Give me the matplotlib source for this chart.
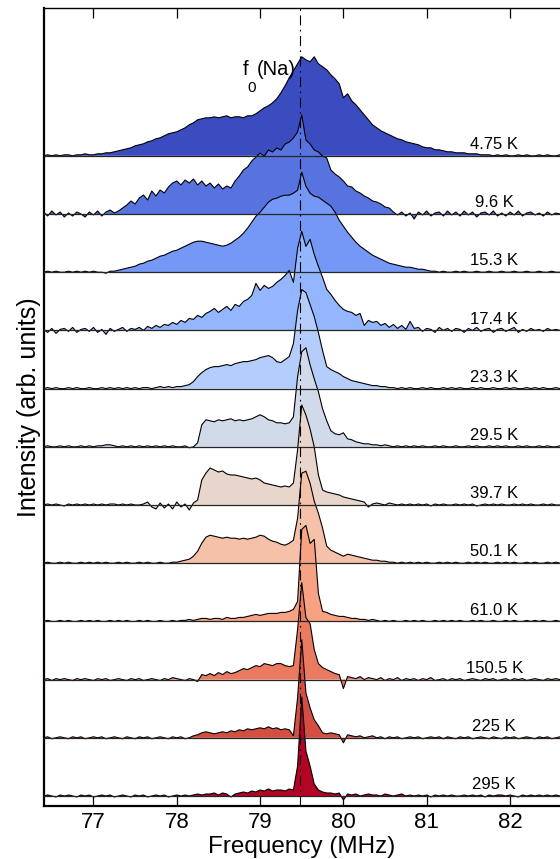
import numpy as np
import matplotlib.pyplot as plt

plt.rcParams['font.family'] = ['Liberation Sans', 'DejaVu Sans']

# Frequency axis (MHz), 0.05 MHz steps from 76.40 to 82.60
freq = np.round(np.arange(76.40, 82.601, 0.05), 2)

temps = ["4.75 K", "9.6 K", "15.3 K", "17.4 K", "23.3 K", "29.5 K",
         "39.7 K", "50.1 K", "61.0 K", "150.5 K", "225 K", "295 K"]

# Intensities (arb. units), one row = 0.5 MHz
s_4p75 = [0, 1, 0, 1, 0, 1, 1, 0, 1, 1,
          2, 1, 1, 2, 2, 3, 3, 4, 5, 6,
          7, 8, 10, 11, 12, 14, 15, 17, 18, 20,
          22, 23, 24, 26, 28, 31, 33, 36, 37, 38,
          38, 39, 38, 39, 40, 38, 39, 39, 38, 40,
          40, 42, 45, 48, 50, 53, 57, 63, 70, 78,
          85, 92, 99, 96, 94, 99, 92, 89, 86, 81,
          77, 72, 58, 62, 55, 51, 46, 41, 36, 31,
          28, 25, 23, 21, 19, 17, 16, 14, 13, 12,
          11, 9, 8, 8, 6, 6, 5, 4, 4, 3,
          3, 3, 2, 2, 2, 1, 1, 1, 0, 1,
          0, 1, 0, 0, 1, 0, 1, 0, 0, 1,
          0, 1, 0, 0, 1]
s_9p6 = [2, -2, 3, -1, 2, -3, 1, -2, 2, 0,
         -3, 2, -1, 3, -2, 2, 4, 1, 3, 6,
         9, 13, 10, 16, 19, 14, 23, 18, 24, 21,
         27, 31, 33, 29, 34, 31, 35, 29, 33, 28,
         31, 26, 30, 25, 28, 26, 33, 38, 44, 47,
         53, 57, 61, 58, 64, 62, 66, 64, 70, 72,
         76, 82, 99, 74, 70, 64, 62, 58, 56, 44,
         40, 37, 33, 28, 27, 23, 21, 18, 16, 13,
         12, 10, 7, 6, 2, -1, 2, -2, 1, -5,
         2, -1, 3, -2, 1, 2, -2, 3, -1, 2,
         -2, 3, -1, 2, -3, 1, 2, -1, 3, -2,
         1, -2, 2, -1, 3, -2, 1, 2, -1, 1,
         -2, 2, -1, 1, 0]
s_15p3 = [0, 1, 0, 1, 0, 0, 1, 0, 1, 0,
          1, 0, 1, 0, 0, -1, 1, 1, 2, 3,
          4, 5, 6, 8, 9, 11, 12, 14, 16, 17,
          19, 21, 22, 24, 26, 28, 30, 31, 31, 30,
          29, 28, 27, 26, 27, 29, 32, 35, 39, 44,
          50, 56, 60, 65, 70, 73, 74, 76, 77, 77,
          79, 82, 100, 86, 79, 76, 75, 72, 69, 66,
          60, 52, 46, 40, 35, 30, 26, 23, 20, 17,
          15, 13, 11, 9, 8, 7, 6, 5, 5, 4,
          3, 3, 2, 1, 1, 0, 1, 0, 0, 1,
          0, 1, 0, 0, 1, 0, 0, 1, 0, 0,
          1, 0, 0, 1, 0, 0, 1, 0, 0, 1,
          0, 0, 1, 0, 0]
s_17p4 = [1, -2, 2, -3, 1, 2, -1, 3, -2, 1,
          2, -1, 3, -2, 1, -4, 2, -1, 1, 3,
          -1, 2, 1, 3, 0, 4, 2, 5, 3, 6,
          5, 8, 6, 10, 8, 12, 11, 15, 13, 17,
          19, 22, 18, 21, 24, 20, 26, 24, 29, 31,
          35, 47, 40, 45, 42, 44, 48, 51, 55, 60,
          48, 82, 99, 84, 91, 76, 64, 53, 41, 36,
          30, 25, 21, 19, 18, 15, 17, 5, 10, 8,
          9, 5, 7, 3, 6, 2, 5, 1, 9, 2,
          3, -1, 2, 1, -2, 3, 0, 2, -1, 2,
          1, -2, 2, 0, 3, -1, 1, 2, -2, 1,
          2, -1, 1, 3, -2, 1, -1, 2, 0, 1,
          -1, 2, 0, 1, 0]
s_23p3 = [0, 1, 0, 1, 0, 0, 1, 0, 1, 0,
          0, 1, 0, 0, 1, 0, 1, 0, 1, 0,
          1, 0, 1, 0, 1, 1, 0, 1, 2, 1,
          2, 1, 2, 2, 3, 4, 7, 12, 16, 19,
          21, 22, 22, 23, 24, 23, 25, 26, 27, 27,
          28, 29, 31, 32, 33, 31, 27, 26, 29, 32,
          45, 78, 99, 96, 84, 72, 56, 38, 22, 19,
          17, 15, 12, 10, 8, 7, 6, 5, 4, 3,
          3, 2, 2, 1, 1, 0, 1, 0, 1, 0,
          0, 1, 0, 1, 0, 0, 1, 0, 1, 0,
          1, 0, 0, 1, 0, 1, 0, 0, 1, 0,
          0, 1, 0, 1, 0, 0, 1, 0, 1, 0,
          1, 0, 0, 1, 0]
s_29p5 = [0, 1, 0, 0, 1, 0, 1, 0, 0, 1,
          0, 1, 0, 1, 1, 2, 2, 1, 0, 1,
          0, 1, 0, 1, 0, 1, 0, 1, 0, 1,
          0, 1, 0, 0, 1, -1, 0, 4, 22, 27,
          26, 25, 27, 26, 27, 28, 26, 27, 26, 27,
          28, 30, 32, 30, 27, 26, 24, 24, 23, 24,
          30, 70, 95, 99, 82, 68, 55, 38, 26, 16,
          13, 12, 14, 8, 7, 5, 4, 3, 3, 2,
          2, 1, 2, 1, 0, 1, 0, 1, 0, 1,
          0, 1, 0, 0, 1, 0, 1, 0, 0, 1,
          0, 0, 1, 0, 1, 0, 0, 1, 0, 1,
          0, 1, 0, 0, 1, 0, 1, 0, 0, 1,
          0, 1, 0, 0, 1]
s_39p7 = [0, 1, 0, 1, 0, -1, 1, 0, 1, 0,
          1, 0, 1, 0, 1, 0, 1, 1, 0, 1,
          0, 1, 0, 0, 1, 3, -2, -4, 2, -3,
          1, -4, 3, -2, 1, -5, 2, 5, 25, 32,
          37, 35, 33, 34, 31, 30, 30, 29, 28, 27,
          26, 27, 25, 22, 21, 20, 19, 18, 19, 18,
          22, 55, 100, 90, 76, 58, 30, 15, 13, 12,
          11, 10, 8, 7, 6, 5, 4, 3, -2, 1,
          2, 1, 0, 2, 1, 0, 1, 0, 1, 0,
          1, 0, 1, -1, 1, 0, 1, 0, 0, 1,
          0, 1, 0, 1, -1, 0, 1, 0, 1, 0,
          1, 0, 0, 1, 0, 1, 0, 1, 0, 0,
          1, 0, 1, 0, 0]
s_50p1 = [0, 1, 0, 0, 1, 0, 1, 0, 0, 1,
          0, 1, 0, 1, 0, 1, 0, 0, 1, 0,
          1, 0, 0, 1, 0, 1, 0, 0, 1, 0,
          0, 1, 1, 2, 3, 4, 7, 12, 20, 26,
          28, 27, 26, 25, 26, 25, 25, 24, 25, 24,
          25, 26, 28, 27, 24, 22, 21, 19, 18, 20,
          23, 45, 90, 92, 80, 62, 50, 35, 17, 13,
          11, 9, 7, 9, 8, 7, 6, 5, 4, 3,
          3, 2, 2, 1, 1, 0, 1, 0, 1, 0,
          1, 0, 1, 0, 0, 1, 0, 1, 0, 1,
          0, 0, 1, 0, 1, 0, 1, 0, 0, 1,
          0, 1, 0, 1, 0, 0, 1, 0, 1, 0,
          0, 1, 0, 1, 0]
s_61p0 = [0, 1, 0, 0, 1, 0, 1, 0, 0, 1,
          0, 1, 0, 1, 0, 0, 1, 0, 1, 0,
          1, 0, 0, 1, 0, 1, 0, 0, 1, 0,
          0, 1, 0, 1, 1, 2, 1, 2, 3, 3,
          2, 3, 3, 2, 4, 3, 3, 4, 4, 5,
          6, 7, 6, 7, 8, 8, 8, 9, 9, 10,
          12, 20, 92, 96, 78, 82, 28, 10, 9, 7,
          6, 5, 5, 4, 3, 3, 2, 2, 1, 2,
          1, 0, 1, 0, 1, 0, 0, 1, 0, 1,
          0, 1, 0, 0, 1, 0, 1, 0, 1, 0,
          1, 0, 0, 1, 0, 1, 0, 0, 1, 0,
          0, 1, 0, 1, 0, 0, 1, 0, 1, 0,
          1, 0, 0, 1, 0]
s_150p5 = [0, 1, -1, 1, 0, 1, 0, -1, 1, 0,
           1, 0, -1, 1, 0, 1, -1, 0, 1, 0,
           -1, 1, 0, 1, -1, 0, 1, 0, -1, 1,
           0, 2, 1, 0, -1, 1, 0, -2, 5, 4,
           6, 4, 7, 5, 8, 6, 7, 9, 11, 10,
           12, 14, 13, 16, 15, 14, 16, 16, 14, 13,
           14, 50, 97, 62, 56, 30, 16, 12, 10, 8,
           6, 5, -9, 3, 2, 1, 3, 0, 2, 1,
           0, 2, -1, 1, 0, 2, -1, 1, 0, 1,
           -1, 1, 0, 2, -1, 0, 1, -1, 1, 0,
           1, -1, 0, 1, 0, -1, 1, 0, 1, -1,
           0, 1, -1, 1, 0, 1, -1, 0, 1, 0,
           -1, 1, 0, 1, 0]
s_225 = [0, 1, -1, 0, 1, 0, -1, 1, 0, 1,
         -1, 0, 1, 0, 1, -1, 0, 1, 0, -1,
         1, 0, -1, 1, 0, 1, -1, 0, 1, 0,
         -1, 1, 0, 1, -1, 0, 2, 3, 5, 6,
         5, 4, 5, 6, 5, 7, 6, 8, 7, 9,
         8, 9, 10, 9, 11, 9, 10, 8, 9, 8,
         2, 40, 98, 45, 30, 18, 12, 5, 4, 5,
         4, 3, -5, 3, 2, 1, 2, 0, 1, 2,
         0, 1, -1, 1, 0, 1, -1, 0, 1, 0,
         1, -1, 0, 1, 0, 1, -1, 1, 0, -1,
         1, 0, 1, -1, 0, 1, 0, -1, 1, 0,
         -1, 1, 0, 1, -1, 0, 1, 0, -1, 1,
         0, 1, -1, 0, 1]
s_295 = [0, 1, 0, -1, 1, 0, 1, 0, -1, 1,
         0, 1, -1, 0, 1, 0, 1, -1, 0, 1,
         0, -1, 1, 0, 1, -1, 0, 1, 0, 1,
         -1, 0, 1, 0, 1, 0, 1, 2, 1, 2,
         2, 3, 1, 3, 2, -1, 2, 3, 4, 3,
         5, 4, 6, 5, 7, 5, 6, 6, 5, 7,
         6, 30, 99, 45, 30, 12, 6, 4, 3, 3,
         2, 3, -4, 2, 1, 2, 0, 1, 2, 1,
         1, 0, 2, 1, 0, 1, 2, 0, 1, 0,
         1, 0, 1, -1, 1, 0, 1, 0, 1, 0,
         0, 1, 0, 1, 0, 1, -1, 1, 0, 1,
         1, 0, 1, 0, -1, 1, 0, 1, 0, 1,
         0, 1, 0, 1, 0]

spectra = [s_4p75, s_9p6, s_15p3, s_17p4, s_23p3, s_29p5,
           s_39p7, s_50p1, s_61p0, s_150p5, s_225, s_295]
f0_na = 79.48
step = 58.2

fig = plt.figure(figsize=(5.6, 8.59), dpi=100)
ax = fig.add_axes([43.5 / 560, 53 / 859, 516.5 / 560, 798 / 859])

colors = plt.cm.coolwarm(np.linspace(0, 1, len(spectra)))
n = len(spectra)
for i, (lab, s) in enumerate(zip(temps, spectra)):
    assert len(s) == len(freq), (lab, len(s))
    base = (n - 1 - i) * step
    y = base + np.asarray(s, float)
    ax.fill_between(freq, base, y, facecolor=colors[i], edgecolor='none', zorder=2 + 2 * i)
    ax.plot(freq, y, color='k', lw=0.8, zorder=3 + 2 * i)
    ax.axhline(base, color='0.15', lw=0.9, zorder=60)
    ax.text(81.81, base + 6.7, lab, ha='center', va='baseline', fontsize=12, zorder=70)

# f0(Na) marker and its label (subscript placed by hand, it sits low)
ax.axvline(f0_na, color='k', lw=0.8, ls=(0, (9, 4, 1.5, 4)), zorder=80)
ax.text(78.795, 721, 'f', ha='left', va='baseline', fontsize=14.5, zorder=70)
ax.text(78.85, 704, '0', ha='left', va='baseline', fontsize=11, zorder=70)
ax.text(79.425, 721, '(Na)', ha='right', va='baseline', fontsize=14.5, zorder=70)

ax.set_xlim(76.4, 82.6)
ax.set_ylim(-10, 788)
ax.set_xticks(range(77, 83))
ax.set_yticks([])
ax.tick_params(axis='x', direction='in', top=True, length=7, width=0.9, labelsize=16, pad=4)
ax.spines['right'].set_visible(False)
ax.spines['top'].set_linewidth(1.0)
ax.spines['left'].set_linewidth(1.6)
ax.spines['bottom'].set_linewidth(1.6)
ax.set_xlabel('Frequency (MHz)', fontsize=17.5, va='center')
ax.xaxis.set_label_coords(0.5, -0.0515)
ax.set_ylabel('Intensity (arb. units)', fontsize=18, labelpad=2)

fig.savefig('out.png', dpi=100)
